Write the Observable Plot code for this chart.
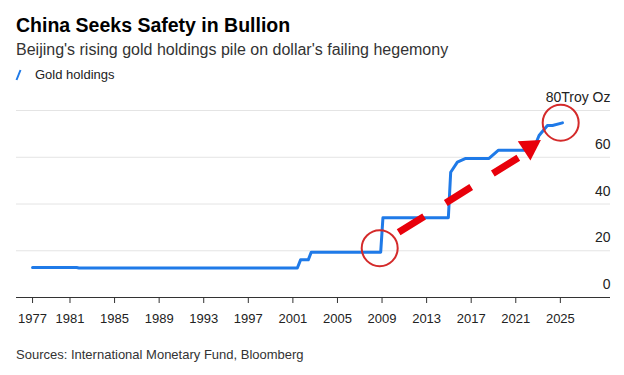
<!DOCTYPE html>
<html>
<head>
<meta charset="utf-8">
<script src="https://cdn.jsdelivr.net/npm/d3@7"></script>
<script src="https://cdn.jsdelivr.net/npm/@observablehq/plot@0.6"></script>
<style>
  html, body { margin: 0; padding: 0; background: #fff; }
  body { width: 624px; height: 375px; position: relative; overflow: hidden;
         font-family: "Liberation Sans", Arial, sans-serif; }
  .t { position: absolute; left: 16px; line-height: 1; white-space: nowrap; }
  #title { top: 16px; font-size: 19.5px; font-weight: bold; color: #000; }
  #subtitle { top: 41.5px; font-size: 16px; color: #333; }
  #legend { top: 68px; font-size: 13px; color: #222; left: 15px; }
  #legend svg { position: absolute; left: 0; top: 1px; }
  #legend span { margin-left: 20px; }
  #sources { top: 347.5px; font-size: 13px; color: #333; }
  #chart { position: absolute; left: 0; top: 85px; }
</style>
</head>
<body>
<div class="t" id="title">China Seeks Safety in Bullion</div>
<div class="t" id="subtitle">Beijing's rising gold holdings pile on dollar's failing hegemony</div>
<div class="t" id="legend"><svg width="8" height="12"><line x1="1.5" y1="11" x2="5.5" y2="1" stroke="#1f7ae8" stroke-width="2"/></svg><span>Gold holdings</span></div>
<div id="chart"></div>
<div class="t" id="sources">Sources: International Monetary Fund, Bloomberg</div>
<script>
// Gold holdings (million troy oz)
const years = [1977.64, 1981.6, 1981.8, 2001.40, 2001.69, 2002.38, 2002.65, 2008.88, 2009.08,
               2014.95, 2015.16, 2015.76, 2016.51, 2018.60, 2019.45, 2022.55, 2023.09, 2023.84,
               2024.29, 2025.19];
const holdings = [12.8, 12.8, 12.6, 12.6, 16.1, 16.1, 19.4, 19.4, 34.1,
                  34.1, 53.6, 57.9, 59.5, 59.5, 63.0, 63.0, 69.3, 73.6,
                  73.6, 74.7];

// Axis ticks
const xTicks = [1977.64, 1981, 1985, 1989, 1993, 1997, 2001, 2005, 2009, 2013, 2017, 2021, 2025];
const yTicks = [0, 20, 40, 60, 80];
const yTickLabels = ["0", "20", "40", "60", "80Troy Oz"];

// Annotations (data coordinates)
const circleYears = [2008.79, 2025.03];
const circleValues = [21.1, 74.8];
const arrowFrom = [2010.49, 27.9];
const arrowTo = [2021.29, 60.0];
const arrowHead = [2022.25, 64.3];

const data = years.map((x, i) => ({x, y: holdings[i]}));
const circles = circleYears.map((x, i) => ({x, y: circleValues[i]}));

const chart = Plot.plot({
  width: 624,
  height: 260,
  marginTop: 25,
  marginBottom: 48,
  marginLeft: 16,
  marginRight: 14,
  x: {domain: [1976.2, 2029.5]},
  y: {domain: [0, 80], axis: null},
  style: {fontFamily: "'Liberation Sans', Arial, sans-serif", color: "#222", background: "transparent", overflow: "visible"},
  marks: [
    Plot.ruleY(yTicks.filter(d => d > 0), {stroke: "#e4e4e4", strokeWidth: 1}),
    Plot.ruleY([0], {stroke: "#333", strokeWidth: 1}),
    Plot.axisX({ticks: xTicks, tickFormat: d => String(Math.floor(d)), tickSize: 6, tickPadding: 9.8,
                fontSize: 13, label: null, stroke: "#333"}),
    Plot.text(yTicks, {y: d => d, text: (d, i) => yTickLabels[i], frameAnchor: "right", textAnchor: "end",
                       lineAnchor: "bottom", dy: -8.3, fontSize: 14, fill: "#222"}),
    Plot.line(data, {x: "x", y: "y", stroke: "#1f7ae8", strokeWidth: 3, strokeLinejoin: "round"}),
    Plot.link([0], {x1: () => arrowFrom[0], y1: () => arrowFrom[1], x2: () => arrowTo[0], y2: () => arrowTo[1],
                    stroke: "#e8000b", strokeWidth: 7, strokeDasharray: "30,25.5"}),
    Plot.dot([0], {x: () => arrowHead[0], y: () => arrowHead[1], symbol: "triangle", r: 8.6, rotate: 57,
                   fill: "#e8000b", stroke: "none"}),
    Plot.dot(circles, {x: "x", y: "y", r: 18, stroke: "#d42a2a", strokeWidth: 2, fill: "none"})
  ]
});
document.getElementById("chart").appendChild(chart);
</script>
</body>
</html>
